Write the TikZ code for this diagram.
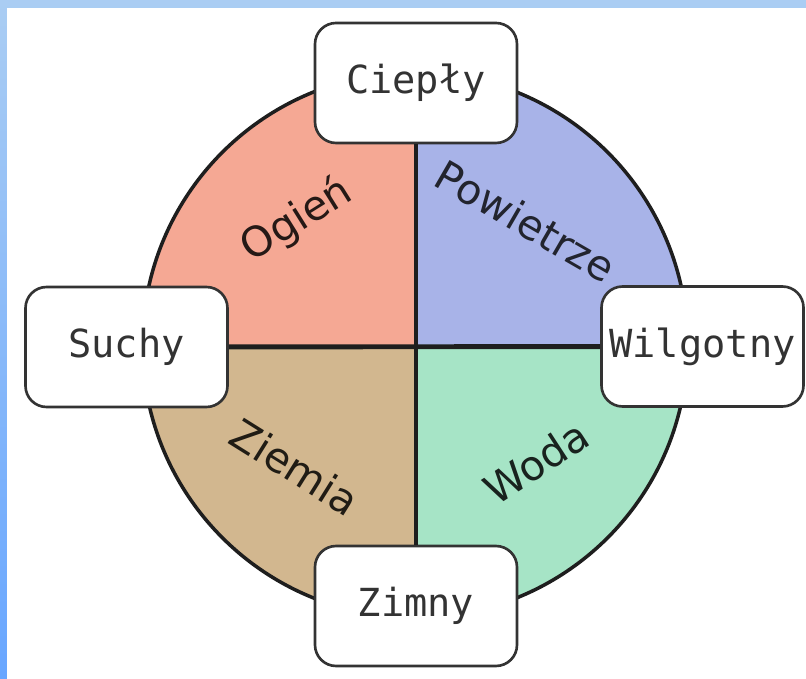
\documentclass[tikz,border=0pt]{standalone}
\usepackage{fontspec}
\setmainfont{DejaVu Sans}
\setmonofont{DejaVu Sans Mono}
\usepackage{tikz}
\usetikzlibrary{positioning,backgrounds}
\usepackage{xcolor}
\definecolor{fireC}{HTML}{F5A894}
\definecolor{airC}{HTML}{A8B3E8}
\definecolor{earthC}{HTML}{D2B78F}
\definecolor{waterC}{HTML}{A6E4C6}
\definecolor{edgeC}{HTML}{1E1E1E}
\definecolor{frameTop}{HTML}{AACDF3}
\definecolor{frameBot}{HTML}{68A6FF}

\begin{document}
\begin{tikzpicture}[
    quality/.style={draw=black!80,line width=1.5pt,rounded corners=12pt,fill=white,
      minimum width=4.04cm,minimum height=2.4cm,inner sep=0pt,
      font=\ttfamily\fontsize{22}{26}\selectfont,text=black!80},
    elem/.style={font=\fontsize{23.5}{27}\selectfont,inner sep=0pt},
    cross/.style={draw=edgeC,line width=2.8pt}]
% ===== frame: blue strip top and left =====
\useasboundingbox (-8.3,-6.68) rectangle (7.82,6.9);
\fill[top color=frameTop,bottom color=frameBot] (-8.3,-6.68) rectangle (7.82,6.9);
\fill[white] (-8.16,-6.68) rectangle (7.82,6.74);
% ===== four quadrants =====
\def\rad{5.45}
\fill[fireC]  (0,0) -- (0,\rad)  arc[start angle=90, end angle=180,radius=\rad] -- cycle;
\fill[airC]   (0,0) -- (\rad,0)  arc[start angle=0,  end angle=90, radius=\rad] -- cycle;
\fill[earthC] (0,0) -- (-\rad,0) arc[start angle=180,end angle=270,radius=\rad] -- cycle;
\fill[waterC] (0,0) -- (0,-\rad) arc[start angle=270,end angle=360,radius=\rad] -- cycle;
\draw[edgeC,line width=2pt] (0,0) circle (\rad);
% ===== element names =====
\node[elem,text=fireC!15!black,rotate=32]   (ogien)     at (-2.36,2.5)   {Ogień};
\node[elem,text=airC!20!black,rotate=-30]   (powietrze) at (2.22,2.48)   {Powietrze};
\node[elem,text=earthC!15!black,rotate=-32] (ziemia)    at (-2.4,-2.44)  {Ziemia};
\node[elem,text=waterC!15!black,rotate=33]  (woda)      at (2.42,-2.34)  {Woda};
% ===== qualities =====
\node[quality] (cieply)   at (0.02,5.24)  {Ciepły};
\node[quality] (zimny)    at (0.02,-5.22) {Zimny};
\node[quality] (suchy)    at (-5.77,-0.04) {Suchy};
\node[quality] (wilgotny) at (5.75,-0.03) {Wilgotny};
% ===== axes between opposite qualities =====
\draw[cross] (suchy) -- (wilgotny);
\draw[cross] (cieply) -- (zimny);
\end{tikzpicture}
\end{document}
